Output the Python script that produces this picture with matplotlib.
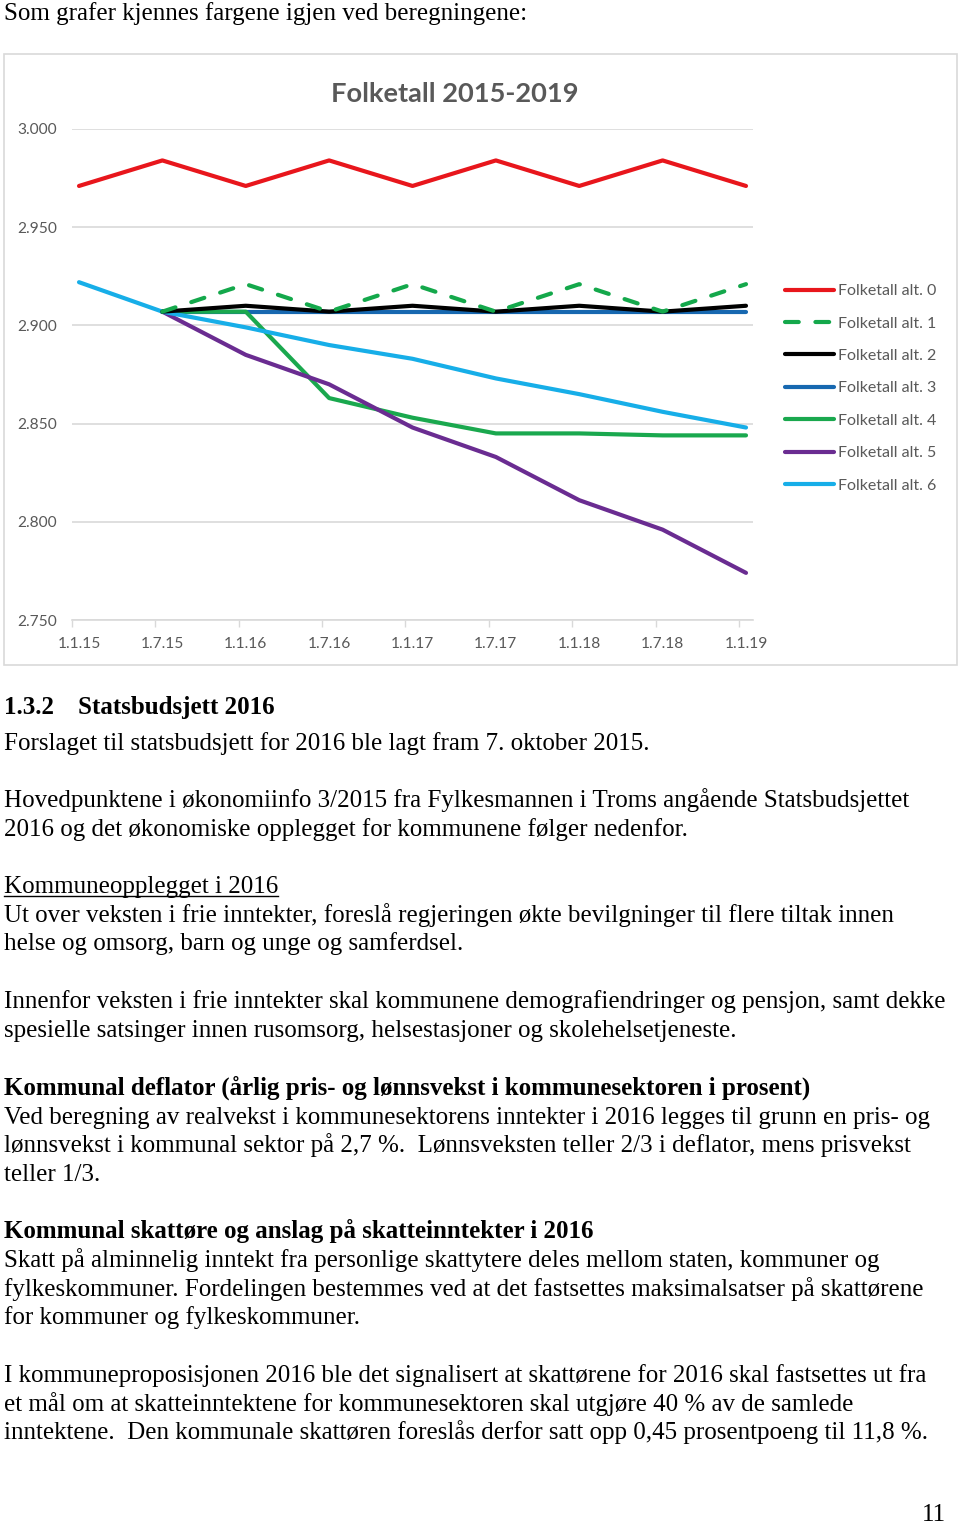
import matplotlib
matplotlib.use("Agg")
import matplotlib.pyplot as plt
import numpy as np
from matplotlib.patches import Rectangle
from matplotlib.lines import Line2D

# ---------------- data ----------------
dates = ["1.1.15", "1.7.15", "1.1.16", "1.7.16", "1.1.17", "1.7.17", "1.1.18", "1.7.18", "1.1.19"]
nan = np.nan
alt0 = [2971, 2984, 2971, 2984, 2971, 2984, 2971, 2984, 2971]
alt1 = [nan, 2907, 2921, 2907, 2921, 2907, 2921, 2907, 2921]
alt2 = [nan, 2907, 2910, 2907, 2910, 2907, 2910, 2907, 2910]
alt3 = [nan, 2907, 2907, 2907, 2907, 2907, 2907, 2907, 2907]
alt4 = [nan, 2907, 2907, 2863, 2853, 2845, 2845, 2844, 2844]
alt5 = [nan, 2907, 2885, 2870, 2848, 2833, 2811, 2796, 2774]
alt6 = [2922, 2907, 2899, 2890, 2883, 2873, 2865, 2856, 2848]
series_names = ["Folketall alt. 0", "Folketall alt. 1", "Folketall alt. 2", "Folketall alt. 3",
                "Folketall alt. 4", "Folketall alt. 5", "Folketall alt. 6"]
y_ticks = [2750, 2800, 2850, 2900, 2950, 3000]
y_tick_labels = ["2.750", "2.800", "2.850", "2.900", "2.950", "3.000"]
chart_title = "Folketall 2015-2019"

colors = ["#E8161C", "#14A84B", "#000000", "#1768B0", "#1AA84E", "#6A2C91", "#17AEE8"]
styles = ["-", "--", "-", "-", "-", "-", "-"]

W, H = 960, 1524
fig = plt.figure(figsize=(W / 100, H / 100), dpi=100)

def fy(y):
    return 1 - y / H

def fx(x):
    return x / W

# chart border
fig.patches.append(Rectangle((fx(4), fy(665)), fx(953), (665 - 54) / H, transform=fig.transFigure,
                             fill=False, edgecolor="#D9D9D9", linewidth=1.2))

chart_font = ["Lato", "DejaVu Sans"]
gray = "#595959"

ax = fig.add_axes([fx(72), fy(620), fx(681), (620 - 129) / H])
x = np.arange(len(dates))
all_series = [alt0, alt1, alt2, alt3, alt4, alt5, alt6]
handles = []
for s, c, ls, name in zip(all_series, colors, styles, series_names):
    if ls == "--":
        ln, = ax.plot(x, s, color=c, linewidth=3, linestyle=(0, (3.3, 4.0)),
                      dash_capstyle="round", label=name, zorder=3)
    else:
        ln, = ax.plot(x, s, color=c, linewidth=3, solid_capstyle="round",
                      solid_joinstyle="round", label=name, zorder=3)
    handles.append(ln)

handles[2].set_zorder(4)
handles[1].set_zorder(5)

off = 0.084
ax.set_xlim(-off, len(dates) - 1 + off)
ax.set_ylim(2750, 3000)
ax.set_yticks(y_ticks)
ax.set_yticklabels(y_tick_labels, fontfamily=chart_font, fontsize=11.2, color=gray)
ax.set_xticks(x)
ax.set_xticklabels(dates, fontfamily=chart_font, fontsize=11.2, color=gray)
ax.set_xticks(x - off, minor=True)
ax.tick_params(axis="x", which="major", length=0, pad=12.5)
ax.tick_params(axis="x", which="minor", length=5, color="#D9D9D9", width=1)
ax.tick_params(axis="y", length=0, pad=11)
for lab in ax.get_yticklabels():
    lab.set_horizontalalignment("right")
ax.grid(axis="y", color="#D9D9D9", linewidth=1.2)
ax.set_axisbelow(True)
for sp in ["top", "right", "left"]:
    ax.spines[sp].set_visible(False)
ax.spines["bottom"].set_color("#D9D9D9")
ax.spines["bottom"].set_linewidth(1.2)

fig.text(fx(455), fy(94), chart_title, ha="center", va="center", fontsize=19.6,
         fontweight="bold", color=gray, family=chart_font)

leg = fig.legend(handles=handles, labels=series_names, loc="upper left",
                 bbox_to_anchor=(fx(777), fy(276)), frameon=False, borderpad=0,
                 handlelength=3.05, handletextpad=0.25, labelspacing=1.14,
                 prop={"family": chart_font, "size": 11.5})
for t in leg.get_texts():
    t.set_color(gray)

# ---------------- page text ----------------
serif = ["Liberation Serif", "DejaVu Serif"]
fs = 18

def line(xp, yb, s, **kw):
    return fig.text(fx(xp), fy(yb), s, ha="left", va="baseline", fontsize=fs,
                    family=serif, color="black", **kw)

line(4, 20, "Som grafer kjennes fargene igjen ved beregningene:")
line(4, 714, "1.3.2", fontweight="bold")
line(78, 714, "Statsbudsjett 2016", fontweight="bold")
line(4, 750, "Forslaget til statsbudsjett for 2016 ble lagt fram 7. oktober 2015.")
line(4, 807, "Hovedpunktene i økonomiinfo 3/2015 fra Fylkesmannen i Troms angående Statsbudsjettet")
line(4, 836, "2016 og det økonomiske opplegget for kommunene følger nedenfor.")
tk = line(4, 893, "Kommuneopplegget i 2016")
line(4, 922, "Ut over veksten i frie inntekter, foreslå regjeringen økte bevilgninger til flere tiltak innen")
line(4, 950, "helse og omsorg, barn og unge og samferdsel.")
line(4, 1008, "Innenfor veksten i frie inntekter skal kommunene demografiendringer og pensjon, samt dekke")
line(4, 1037, "spesielle satsinger innen rusomsorg, helsestasjoner og skolehelsetjeneste.")
line(4, 1095, "Kommunal deflator (årlig pris- og lønnsvekst i kommunesektoren i prosent)", fontweight="bold")
line(4, 1124, "Ved beregning av realvekst i kommunesektorens inntekter i 2016 legges til grunn en pris- og")
line(4, 1152, "lønnsvekst i kommunal sektor på 2,7 %.  Lønnsveksten teller 2/3 i deflator, mens prisvekst")
line(4, 1181, "teller 1/3.")
line(4, 1238, "Kommunal skattøre og anslag på skatteinntekter i 2016", fontweight="bold")
line(4, 1267, "Skatt på alminnelig inntekt fra personlige skattytere deles mellom staten, kommuner og")
line(4, 1296, "fylkeskommuner. Fordelingen bestemmes ved at det fastsettes maksimalsatser på skattørene")
line(4, 1324, "for kommuner og fylkeskommuner.")
line(4, 1382, "I kommuneproposisjonen 2016 ble det signalisert at skattørene for 2016 skal fastsettes ut fra")
line(4, 1411, "et mål om at skatteinntektene for kommunesektoren skal utgjøre 40 % av de samlede")
line(4, 1439, "inntektene.  Den kommunale skattøren foreslås derfor satt opp 0,45 prosentpoeng til 11,8 %.")
fig.text(fx(946), fy(1521), "11", ha="right", va="baseline", fontsize=fs, family=serif, color="black")

# underline for sub-heading
fig.canvas.draw()
bb = tk.get_window_extent(renderer=fig.canvas.get_renderer())
fig.add_artist(Line2D([bb.x0 / W, bb.x1 / W], [fy(896), fy(896)], transform=fig.transFigure,
                      color="black", linewidth=1.0))

fig.savefig("out.png", dpi=100)
